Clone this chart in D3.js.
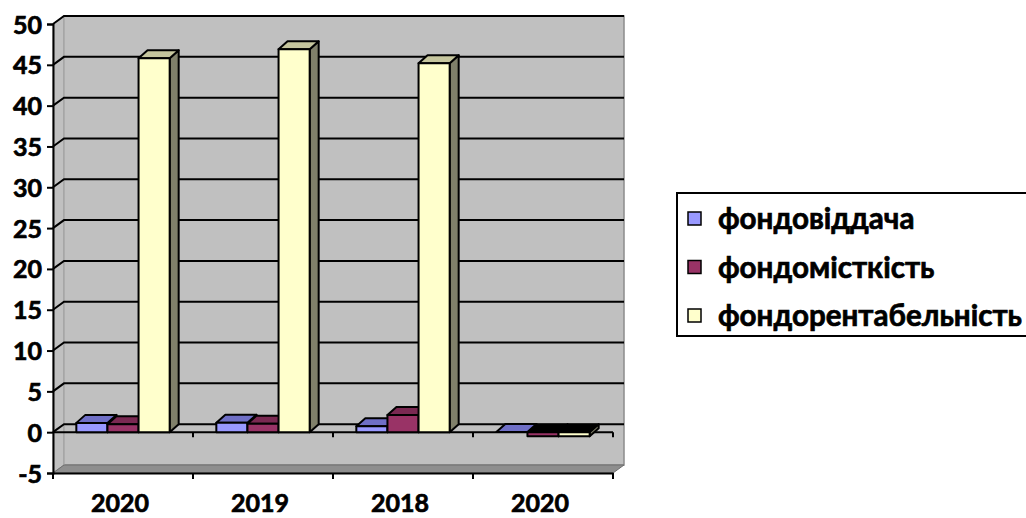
<!DOCTYPE html>
<html>
<head>
<meta charset="utf-8">
<script src="https://cdn.jsdelivr.net/npm/d3@7"></script>
<style>
  html, body { margin: 0; padding: 0; background: #fff; }
  svg { display: block; }
  text { font-family: Lato, "Open Sans", sans-serif; font-weight: bold; fill: #000;
         stroke: #000; stroke-width: 0.7px; }
</style>
</head>
<body>
<svg id="chart" width="1026" height="518"></svg>
<script>
// Years along the category axis
const categories = ["2020", "2019", "2018", "2020"];
// Indicator names
const seriesNames = ["фондовіддача", "фондомісткість", "фондорентабельність"];
// Indicator values per year
const fondovidd = [1.14, 1.15, 0.74, 0.03];
const fondomist = [0.98, 1.02, 2.09, -0.5];
const fondorent = [45.8, 46.9, 45.2, -0.5];
// Value axis ticks
const yTicks = [-5, 0, 5, 10, 15, 20, 25, 30, 35, 40, 45, 50];

const seriesValues = [fondovidd, fondomist, fondorent];
const faceFill  = ["#9999FF", "#993366", "#FFFFCC"];
const topFill   = ["#6F6FC6", "#7A2952", "#C6C69E"];
const sideFill  = ["#5C5CA0", "#5E1F40", "#80806A"];

const svg = d3.select("#chart");

// Front plane of the plot and the depth offset of the back wall
const plotLeft = 53, plotRight = 613, plotTop = 24, plotBottom = 473;
const wallDx = 11, wallDy = -8;
const barDx = 9, barDy = -8;

const y = d3.scaleLinear().domain([-5, 50]).range([plotBottom, plotTop]);
const x = d3.scaleBand().domain(d3.range(categories.length)).range([plotLeft, plotRight]);
const xs = d3.scaleBand().domain(d3.range(seriesNames.length))
  .range([0, x.bandwidth()]).paddingOuter(0.75);

const pts = a => a.map(p => p.join(",")).join(" ");

// Back wall
svg.append("rect")
  .attr("x", plotLeft + wallDx).attr("y", plotTop + wallDy)
  .attr("width", plotRight - plotLeft).attr("height", plotBottom - plotTop)
  .attr("fill", "#C0C0C0").attr("stroke", "#8C8C8C").attr("stroke-width", 1.5);
svg.append("line")
  .attr("x1", plotLeft + wallDx).attr("x2", plotLeft + wallDx)
  .attr("y1", plotTop + wallDy).attr("y2", plotBottom + wallDy)
  .attr("stroke", "#E2E2E2").attr("stroke-width", 1.5);

// Side wall on the left
svg.append("polygon")
  .attr("points", pts([[plotLeft, plotTop], [plotLeft + wallDx, plotTop + wallDy],
                       [plotLeft + wallDx, plotBottom + wallDy], [plotLeft, plotBottom]]))
  .attr("fill", "#C0C0C0").attr("stroke", "#8C8C8C").attr("stroke-width", 1);

// Floor
svg.append("polygon")
  .attr("points", pts([[plotLeft, plotBottom], [plotLeft + wallDx, plotBottom + wallDy],
                       [plotRight + wallDx, plotBottom + wallDy], [plotRight, plotBottom]]))
  .attr("fill", "#8E8E8E").attr("stroke", "#6E6E6E").attr("stroke-width", 1);

// Gridlines on the side and back walls
const grid = svg.append("g");
yTicks.filter(v => v > -5).forEach(v => {
  const yy = y(v);
  grid.append("polyline")
    .attr("points", pts([[plotLeft, yy], [plotLeft + wallDx, yy + wallDy], [plotRight + wallDx, yy + wallDy]]))
    .attr("fill", "none").attr("stroke", "#000").attr("stroke-width", 2);
});

// Category axis line at zero along the front
svg.append("line")
  .attr("x1", plotLeft).attr("x2", plotRight).attr("y1", y(0)).attr("y2", y(0))
  .attr("stroke", "#000").attr("stroke-width", 2);
svg.append("g")
  .selectAll("line").data(d3.range(1, categories.length + 1)).join("line")
  .attr("x1", i => plotLeft + i * x.step()).attr("x2", i => plotLeft + i * x.step())
  .attr("y1", y(0)).attr("y2", y(0) + 5)
  .attr("stroke", "#000").attr("stroke-width", 2);

// Columns, drawn left to right so each front face covers the previous side face
const bars = svg.append("g");
categories.forEach((c, ci) => {
  seriesValues.forEach((vals, si) => {
    const v = vals[ci];
    const x0 = x(ci) + xs(si), w = xs.bandwidth();
    const yTop = y(Math.max(v, 0)), yBot = y(Math.min(v, 0));
    const g = bars.append("g").attr("stroke", "#000").attr("stroke-width", 2)
      .attr("stroke-linejoin", "round");
    // side face
    g.append("polygon")
      .attr("points", pts([[x0 + w, yTop], [x0 + w + barDx, yTop + barDy],
                           [x0 + w + barDx, yBot + barDy], [x0 + w, yBot]]))
      .attr("fill", sideFill[si]);
    // top face (a column below zero shows its upper face in shadow)
    g.append("polygon")
      .attr("points", pts([[x0, yTop], [x0 + barDx, yTop + barDy],
                           [x0 + w + barDx, yTop + barDy], [x0 + w, yTop]]))
      .attr("fill", v < 0 ? "#000" : topFill[si])
      .attr("stroke-width", v < 0 ? 1 : 2);
    // front face
    if (yBot - yTop > 0.5) {
      g.append("rect")
        .attr("x", x0).attr("y", yTop).attr("width", w).attr("height", yBot - yTop)
        .attr("fill", faceFill[si]);
    }
  });
});

// Value axis (plain hyphen for negative numbers)
const yAxis = svg.append("g")
  .attr("transform", `translate(${plotLeft},0)`)
  .call(d3.axisLeft(y).tickValues(yTicks).tickSize(6).tickPadding(5)
    .tickFormat(v => String(v)));
yAxis.select(".domain").attr("stroke", "#000").attr("stroke-width", 2);
yAxis.selectAll(".tick line").attr("stroke", "#000").attr("stroke-width", 2);
yAxis.selectAll(".tick text").attr("font-size", 25).attr("dy", "0.36em")
  .style("font-family", "Lato, sans-serif").attr("fill", "#000");

// Category axis at the floor
const xAxis = svg.append("g")
  .attr("transform", `translate(0,${plotBottom})`)
  .call(d3.axisBottom(x).tickFormat(i => categories[i]).tickSize(0).tickPadding(21));
xAxis.select(".domain").attr("stroke", "#000").attr("stroke-width", 2);
xAxis.selectAll(".tick text").attr("font-size", 25).attr("dx", -3)
  .style("font-family", "Lato, sans-serif").attr("fill", "#000");
xAxis.selectAll(".tick line").remove();
xAxis.append("g").selectAll("line").data(d3.range(0, categories.length + 1)).join("line")
  .attr("x1", i => plotLeft + i * x.step()).attr("x2", i => plotLeft + i * x.step())
  .attr("y1", 0).attr("y2", 6)
  .attr("stroke", "#000").attr("stroke-width", 2);

// Legend
const legend = svg.append("g");
legend.append("rect")
  .attr("x", 677).attr("y", 193).attr("width", 370).attr("height", 143)
  .attr("fill", "#fff").attr("stroke", "#000").attr("stroke-width", 2);
const rowY = d3.scalePoint().domain(d3.range(seriesNames.length)).range([219, 316]);
const items = legend.selectAll("g.item").data(seriesNames).join("g").attr("class", "item")
  .attr("transform", (d, i) => `translate(688,${rowY(i)})`);
items.append("rect")
  .attr("x", 0).attr("y", -7).attr("width", 13).attr("height", 13)
  .attr("fill", (d, i) => faceFill[i]).attr("stroke", "#000").attr("stroke-width", 1.5);
const labels = items.append("text")
  .attr("x", 30).attr("y", 0).attr("dy", "0.35em").attr("font-size", 25)
  .text(d => d);
// Size the legend text so the longest name fills the box width
const longest = d3.max(labels.nodes(), n => n.getComputedTextLength());
labels.attr("font-size", 25 * 304 / longest);
</script>
</body>
</html>
